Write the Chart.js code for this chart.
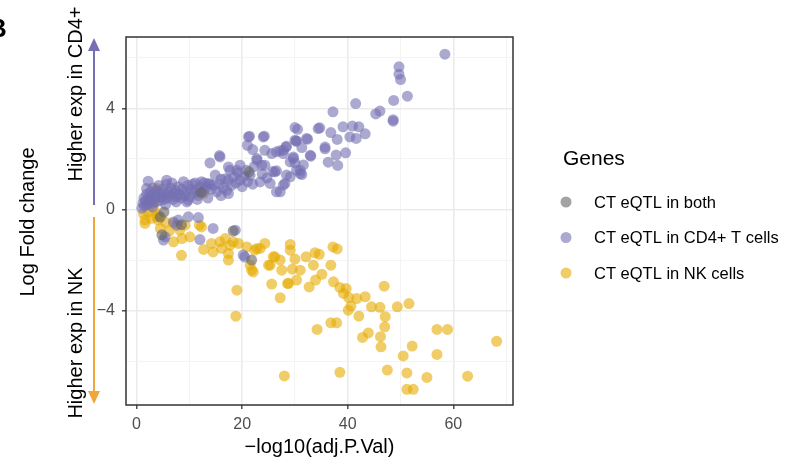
<!DOCTYPE html>
<html>
<head>
<meta charset="utf-8">
<script src="https://cdn.jsdelivr.net/npm/chart.js@4"></script>
<style>
  body { margin: 0; background: #fff; }
  canvas { display: block; }
</style>
</head>
<body>
<canvas id="volcano" width="788" height="465"></canvas>
<script>
  // categories, in legend order
  const geneGroups = ['CT eQTL in both', 'CT eQTL in CD4+ T cells', 'CT eQTL in NK cells'];

  // [ -log10(adj.P.Val), logFC ]
  const bothPts = [
    [21.3, 1.49], [4.8, -1.0], [18.3, -0.85], [21.8, -2.0], [12.2, 0.68], [4.5, -0.3], [8.5, -0.6], [5.2, -0.1]
  ];

  const cd4Pts = [
    [1.0, 0.05], [1.2, 0.25], [1.4, 0.45], [1.5, 0.15], [1.7, 0.35], [1.9, 0.6], [1.9, 0.83], [2.0, 0.2], [2.2, 1.12],
    [2.3, 0.45], [2.5, 0.3], [2.6, 0.7], [2.8, 0.5], [3.0, 0.1], [3.0, 0.25], [3.1, 0.85], [3.3, 0.4], [3.5, 0.6],
    [3.6, 0.3], [3.8, 0.75], [4.0, 0.5], [4.2, 0.95], [4.4, 0.35], [4.5, 0.65], [4.8, 0.5], [5.0, 0.8], [5.2, 0.4],
    [5.4, 0.6], [5.5, 0.2], [5.6, 1.0], [5.7, 1.16], [5.8, 0.45], [6.0, 0.7], [6.3, 0.55], [6.5, 0.85], [6.7, 1.05],
    [6.9, 0.4], [7.1, 0.65], [7.4, 0.75], [7.5, 0.3], [7.6, 0.5], [7.9, 0.9], [8.1, 0.6], [8.4, 0.45], [8.6, 0.8],
    [8.9, 1.1], [9.1, 0.55], [9.4, 0.7], [9.5, 0.3], [9.7, 0.95], [9.8, 0.37], [10.0, 0.5], [10.3, 0.8], [10.6, 1.0],
    [10.9, 0.65], [11.1, 1.05], [11.4, 0.75], [11.5, 0.4], [11.7, 0.55], [12.0, 0.9], [12.3, 1.1], [12.6, 0.7],
    [12.8, 1.05], [13.1, 0.85], [13.5, 0.45], [13.6, 1.03], [13.9, 1.0], [13.9, 1.84], [14.2, 0.8], [14.5, 0.96],
    [14.9, 1.36], [15.2, 0.7], [15.7, 1.0], [15.7, 2.13], [15.8, 2.08], [16.0, 0.55], [16.0, 1.2], [16.4, 0.85],
    [16.8, 1.22], [17.1, 0.76], [17.4, 0.63], [17.4, 1.16], [17.4, 1.68], [17.7, 1.55], [18.0, 0.95], [18.4, 1.3],
    [18.8, 1.05], [19.0, 1.55], [19.2, 1.45], [19.6, 1.16], [19.6, 1.75], [20.0, 0.9], [20.4, 1.3], [20.8, 1.55],
    [21.0, 1.1], [21.0, 2.54], [21.2, 2.87], [21.4, 2.9], [21.5, 1.35], [22.0, 1.0], [22.0, 2.37], [22.3, 1.7],
    [22.8, 1.95], [22.8, 2.02], [23.4, 1.09], [23.7, 1.75], [23.8, 1.4], [24.0, 2.87], [24.2, 2.9], [24.3, 2.34],
    [24.3, 1.75], [24.7, 1.25], [25.3, 1.03], [25.6, 2.21], [25.8, 1.5], [26.2, 1.49], [26.5, 1.53], [26.5, 0.7],
    [26.5, 2.28], [27.2, 0.7], [27.2, 2.32], [27.8, 0.96], [27.8, 2.21], [27.8, 2.34], [28.1, 1.03], [28.3, 2.47],
    [28.4, 1.36], [28.4, 2.5], [29.1, 1.29], [29.1, 1.88], [29.7, 2.02], [29.7, 2.08], [30.0, 1.84], [30.0, 2.74],
    [30.0, 3.24], [30.2, 2.7], [30.3, 1.55], [30.3, 2.71], [30.5, 3.17], [31.0, 1.42], [31.0, 1.55], [31.3, 1.38],
    [31.3, 2.45], [31.6, 1.76], [32.2, 2.81], [32.4, 2.78], [32.9, 2.14], [33.0, 2.11], [34.4, 3.2], [34.7, 3.23],
    [35.7, 2.47], [35.7, 2.4], [36.3, 1.87], [36.8, 3.04], [37.2, 3.86], [37.8, 2.15], [38.0, 2.77], [38.1, 1.74],
    [39.1, 3.27], [39.6, 2.24], [40.4, 2.87], [40.9, 3.3], [41.5, 4.19], [41.6, 2.81], [42.1, 3.27], [43.3, 2.99],
    [45.3, 3.78], [46.1, 3.89], [48.6, 3.49], [48.6, 3.55], [48.7, 4.31], [49.7, 5.64], [49.7, 5.35], [50.0, 5.14],
    [51.3, 4.48], [58.4, 6.14],
    [5.1, -1.21], [5.4, -1.08], [7.0, -0.49], [7.6, -0.62], [7.9, -0.42], [9.8, -0.29], [11.7, -0.32],
    [12.0, -1.19], [14.5, -0.75], [18.7, -0.82], [20.2, -1.8], [20.5, -1.88]
  ];

  const nkPts = [
    [1.3, -0.16], [1.6, -0.42], [1.6, -0.55], [2.2, -0.1], [2.8, -0.35], [3.2, 0.05], [3.8, -0.29], [3.8, 0.83],
    [4.1, -0.22], [4.1, -0.42], [4.5, -0.75], [5.5, -0.5], [6.2, -0.85], [7.0, -0.55], [7.0, -1.28], [8.2, -0.82],
    [8.5, -1.81], [8.6, -1.15], [9.2, -0.62], [10.1, -1.08], [11.9, -0.62], [12.3, -0.69], [12.7, 0.63],
    [12.7, -1.58], [14.2, -1.34], [14.5, -1.68], [15.8, -1.28], [16.1, -1.54], [16.8, -1.15], [17.4, -1.74],
    [17.4, -2.0], [17.7, -1.41], [18.3, -1.28], [18.8, -4.22], [19.0, -3.19], [19.3, -1.34], [20.9, -1.48],
    [21.5, -2.2], [21.8, -2.4], [22.1, -2.47], [22.4, -1.61], [22.8, -1.54], [23.4, -1.54], [24.3, -1.34],
    [25.0, -2.2], [25.3, -2.2], [25.6, -2.95], [25.9, -1.87], [26.2, -1.87], [27.2, -2.0], [27.2, -3.49],
    [27.5, -2.4], [28.0, -6.58], [28.6, -2.93], [28.8, -2.92], [29.1, -1.38], [29.1, -1.61], [29.5, -2.36],
    [30.0, -1.96], [30.3, -2.79], [31.0, -2.4], [32.1, -1.87], [32.7, -3.06], [33.5, -2.2], [33.8, -1.71],
    [33.9, -2.79], [34.2, -4.74], [34.6, -1.77], [35.1, -2.56], [36.8, -2.2], [36.8, -4.48], [37.2, -1.48],
    [37.3, -2.86], [37.9, -4.48], [38.0, -1.56], [38.5, -3.08], [38.5, -6.44], [39.2, -3.32], [39.7, -3.12],
    [40.1, -3.98], [40.2, -3.48], [40.6, -3.82], [41.7, -3.52], [42.1, -4.22], [42.8, -5.06], [43.3, -3.45],
    [43.9, -4.88], [44.5, -3.85], [46.1, -3.87], [46.2, -5.03], [46.3, -5.43], [46.9, -3.03], [47.0, -4.64],
    [47.1, -4.24], [47.5, -6.35], [49.4, -3.85], [50.5, -5.79], [51.2, -6.46], [51.2, -7.11], [51.6, -3.72],
    [52.2, -5.4], [52.4, -7.11], [55.0, -6.64], [56.9, -4.74], [56.9, -5.73], [58.9, -4.74], [62.7, -6.59],
    [68.2, -5.21]
  ];

  // axis ticks
  const xTicks = [0, 10, 20, 30, 40, 50, 60, 70];
  const xLabelled = [0, 20, 40, 60];
  const yTicks = [-6, -4, -2, 0, 2, 4, 6];
  const yLabelled = [-4, 0, 4];

  const toXY = pts => pts.map(p => ({ x: p[0], y: p[1] }));
  const FONT = '"Liberation Sans", Arial, sans-serif';

  const decor = {
    id: 'decor',
    afterDraw(chart) {
      const { ctx, chartArea: a } = chart;
      ctx.save();

      // panel border
      ctx.strokeStyle = '#333333';
      ctx.lineWidth = 1.5;
      ctx.strokeRect(a.left, a.top, a.right - a.left, a.bottom - a.top);

      // panel letter, cut off at the edge
      ctx.fillStyle = '#000';
      ctx.font = 'bold 26px ' + FONT;
      ctx.textAlign = 'left';
      ctx.textBaseline = 'alphabetic';
      ctx.fillText('B', -12, 37);

      // direction arrows
      const ax = 94;
      ctx.lineWidth = 2;
      ctx.strokeStyle = '#7570B3';
      ctx.fillStyle = '#7570B3';
      ctx.beginPath(); ctx.moveTo(ax, 205); ctx.lineTo(ax, 48); ctx.stroke();
      ctx.beginPath(); ctx.moveTo(ax, 38); ctx.lineTo(ax - 6, 51); ctx.lineTo(ax + 6, 51); ctx.closePath(); ctx.fill();
      ctx.strokeStyle = '#EFA63A';
      ctx.fillStyle = '#EFA63A';
      ctx.beginPath(); ctx.moveTo(ax, 217); ctx.lineTo(ax, 394); ctx.stroke();
      ctx.beginPath(); ctx.moveTo(ax, 404); ctx.lineTo(ax - 6, 391); ctx.lineTo(ax + 6, 391); ctx.closePath(); ctx.fill();

      // rotated labels
      const vtext = (txt, x, y, size) => {
        ctx.save();
        ctx.translate(x, y);
        ctx.rotate(-Math.PI / 2);
        ctx.font = size + 'px ' + FONT;
        ctx.fillStyle = '#000';
        ctx.textAlign = 'center';
        ctx.textBaseline = 'middle';
        ctx.fillText(txt, 0, 0);
        ctx.restore();
      };
      vtext('Log Fold change', 28, 222, 20);
      vtext('Higher exp in CD4+', 76, 94, 20);
      vtext('Higher exp in NK', 76, 343, 20);

      // x title
      ctx.font = '20px ' + FONT;
      ctx.fillStyle = '#000';
      ctx.textAlign = 'center';
      ctx.textBaseline = 'middle';
      ctx.fillText('\u2212log10(adj.P.Val)', (a.left + a.right) / 2, 447);

      // legend
      ctx.textAlign = 'left';
      ctx.font = '21px ' + FONT;
      ctx.fillText('Genes', 563, 159);
      ctx.font = '16.5px ' + FONT;
      chart.data.datasets.forEach((ds, i) => {
        const y = 202 + i * 35.5;
        ctx.fillStyle = ds.backgroundColor;
        ctx.beginPath(); ctx.arc(566, y, 5.5, 0, Math.PI * 2); ctx.fill();
        ctx.fillStyle = '#000';
        ctx.fillText(ds.label, 594, y + 1);
      });

      ctx.restore();
    }
  };

  const gridOpts = (labelled) => ({
    color: c => labelled.includes(c.tick.value) ? '#ebebeb' : '#f3f3f3',
    lineWidth: c => labelled.includes(c.tick.value) ? 1.6 : 0.9,
    tickColor: c => labelled.includes(c.tick.value) ? '#333333' : 'rgba(0,0,0,0)',
    tickLength: 4,
    tickWidth: 1.3
  });

  new Chart(document.getElementById('volcano'), {
    type: 'scatter',
    data: {
      datasets: [
        { label: geneGroups[0], data: toXY(bothPts), backgroundColor: 'rgba(102,102,102,0.6)', order: 0 },
        { label: geneGroups[1], data: toXY(cd4Pts), backgroundColor: 'rgba(117,112,179,0.6)', order: 1 },
        { label: geneGroups[2], data: toXY(nkPts), backgroundColor: 'rgba(230,171,2,0.6)', order: 2 }
      ]
    },
    options: {
      responsive: false,
      animation: false,
      devicePixelRatio: 1,
      layout: { padding: { top: 37, right: 275, left: 0, bottom: 0 } },
      elements: { point: { radius: 5.5, borderWidth: 0, hoverRadius: 5.5 } },
      plugins: { legend: { display: false }, tooltip: { enabled: false } },
      events: [],
      scales: {
        x: {
          type: 'linear',
          min: -2.0,
          max: 71.3,
          afterBuildTicks: s => { s.ticks = xTicks.map(v => ({ value: v })); },
          afterFit: s => { s.height = 60; },
          grid: gridOpts(xLabelled),
          border: { display: false },
          ticks: {
            autoSkip: false,
            maxRotation: 0,
            padding: 6,
            color: '#4d4d4d',
            font: { family: FONT, size: 16 },
            callback: v => xLabelled.includes(v) ? String(v) : ''
          }
        },
        y: {
          type: 'linear',
          min: -7.73,
          max: 6.82,
          afterBuildTicks: s => { s.ticks = yTicks.map(v => ({ value: v })); },
          afterFit: s => { s.width = 126; },
          grid: gridOpts(yLabelled),
          border: { display: false },
          ticks: {
            autoSkip: false,
            padding: 7,
            color: '#4d4d4d',
            font: { family: FONT, size: 16 },
            callback: v => yLabelled.includes(v) ? String(v).replace('-', '\u2212') : ''
          }
        }
      }
    },
    plugins: [decor]
  });
</script>
</body>
</html>
